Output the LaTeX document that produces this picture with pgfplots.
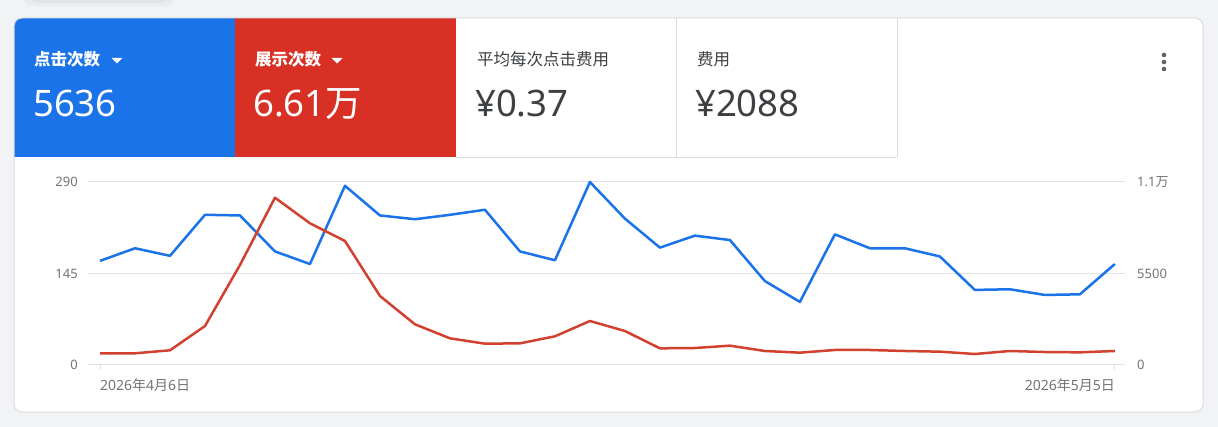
\documentclass[border=0pt]{standalone}
\usepackage{fontspec}
\setmainfont{Noto Sans}
\newfontfamily\cjk{Noto Sans CJK SC}
\usepackage{pgfplots}
\pgfplotsset{compat=1.18}

\definecolor{bg}{HTML}{F1F3F4}
\definecolor{gblue}{HTML}{1A73E8}
\definecolor{gred}{HTML}{D93025}
\definecolor{lred}{HTML}{D2402F}
\definecolor{gline}{HTML}{DADCE0}
\definecolor{ggrid}{HTML}{E2E3E5}
\definecolor{gtext}{HTML}{3C4043}
\definecolor{gtick}{HTML}{70757A}
\definecolor{gdots}{HTML}{5F6368}

\newcommand\lblsize{\fontsize{16.5}{18}\selectfont}
\newcommand\bignum{\fontsize{36.5}{40}\selectfont}
\newcommand\ticksize{\fontsize{13}{15}\selectfont}
\newcommand\datesize{\fontsize{14}{16}\selectfont}

\begin{document}
\begin{tikzpicture}[x=1pt,y=-1pt]
\path[use as bounding box] (0,0) rectangle (1218,427);
\fill[bg] (0,0) rectangle (1218,427);
% shadow of the element above the card
\fill[black, opacity=0.03, rounded corners=8] (24,-14) rectangle (174,6);
\fill[black, opacity=0.03, rounded corners=8] (30,-14) rectangle (168,3);

% card
\fill[white, rounded corners=8] (14,18) rectangle (1203,412);
\begin{scope}
  \clip[rounded corners=8] (14,18) rectangle (1203,412);
  \fill[gblue] (14,18) rectangle (235,157);
  \fill[gred] (235,18) rectangle (456,157);
\end{scope}
\draw[gline, line width=0.8pt] (456,157) -- (897,157);
\draw[gline, line width=0.8pt] (676,18) -- (676,157);
\draw[gline, line width=0.8pt] (897,18) -- (897,157);
\draw[gline, line width=1pt, rounded corners=8] (14,18) rectangle (1203,412);

% metric tiles
\node[anchor=base west, inner sep=0, text=white, font=\cjk\bfseries\lblsize] at (34,66) {点击次数};
\fill[white] (111.5,58) -- (122.5,58) -- (117,63.5) -- cycle;
\node[anchor=base west, inner sep=0, text=white, font=\bignum] at (33,117) {5636};

\node[anchor=base west, inner sep=0, text=white, font=\cjk\bfseries\lblsize] at (255,66) {展示次数};
\fill[white] (331.5,58) -- (342.5,58) -- (337,63.5) -- cycle;
\node[anchor=base west, inner sep=0, text=white, font=\bignum] at (253,117) {6.61{\cjk 万}};

\node[anchor=base west, inner sep=0, text=gtext, font=\cjk\lblsize] at (477,66) {平均每次点击费用};
\node[anchor=base west, inner sep=0, text=gtext, font=\bignum] at (475,117) {¥0.37};

\node[anchor=base west, inner sep=0, text=gtext, font=\cjk\lblsize] at (697,66) {费用};
\node[anchor=base west, inner sep=0, text=gtext, font=\bignum] at (695,117) {¥2088};

\fill[gdots] (1164,55) circle (2.3);
\fill[gdots] (1164,62) circle (2.3);
\fill[gdots] (1164,69) circle (2.3);

% left axis: clicks
\begin{axis}[
  at={(88pt,-365pt)}, anchor=south west,
  scale only axis, width=1037pt, height=183pt,
  xmin=-0.343, xmax=29.29, ymin=0, ymax=290,
  clip=false, axis line style={draw=none},
  ytick={0,145,290}, yticklabels={0,145,290},
  ymajorgrids, grid style={ggrid, line width=1pt},
  ytick style={draw=none}, ytick pos=left,
  yticklabel style={anchor=base east, inner sep=0pt, xshift=-10pt, yshift=-4.6pt, font=\ticksize, text=gtick},
  xtick={0,29},
  xticklabels={\makebox[0pt][l]{2026{\cjk 年}4{\cjk 月}6{\cjk 日}},\makebox[0pt][r]{2026{\cjk 年}5{\cjk 月}5{\cjk 日}}},
  xtick pos=left, xtick align=outside, major tick length=5pt,
  xtick style={ggrid, line width=1pt},
  xticklabel style={anchor=base, inner sep=0pt, yshift=-20.5pt, font=\datesize, text=gtick},
]
\addplot[gblue, line width=2.5pt, line join=round, mark=none] table {
x y
0 165
1 185
2 173
3 238
4 237
5 180
6 160
7 284
8 237
9 231
10 238
11 246
12 180
13 166
14 290
15 232
16 186
17 205
18 198
19 133
20 100
21 207
22 185
23 185
24 172
25 119
26 120
27 111
28 112
29 160
};
\end{axis}

% right axis: impressions
\begin{axis}[
  at={(88pt,-365pt)}, anchor=south west,
  scale only axis, width=1037pt, height=183pt,
  xmin=-0.343, xmax=29.29, ymin=0, ymax=11000,
  clip=false, axis line style={draw=none},
  xtick=\empty, scaled y ticks=false,
  ytick={0,5500,11000}, yticklabels={0,5500,{1.1{\cjk 万}}},
  ytick style={draw=none}, ytick pos=right,
  yticklabel style={anchor=base west, inner sep=0pt, xshift=12pt, yshift=-4.6pt, font=\ticksize, text=gtick},
]
\addplot[lred, line width=2.5pt, line join=round, mark=none] table {
x y
0 703
1 703
2 884
3 2344
4 6011
5 10057
6 8517
7 7454
8 4148
9 2446
10 1603
11 1282
12 1302
13 1723
14 2645
15 2044
16 1002
17 1022
18 1162
19 842
20 741
21 902
22 902
23 842
24 801
25 661
26 842
27 781
28 761
29 842
};
\end{axis}
\end{tikzpicture}
\end{document}
